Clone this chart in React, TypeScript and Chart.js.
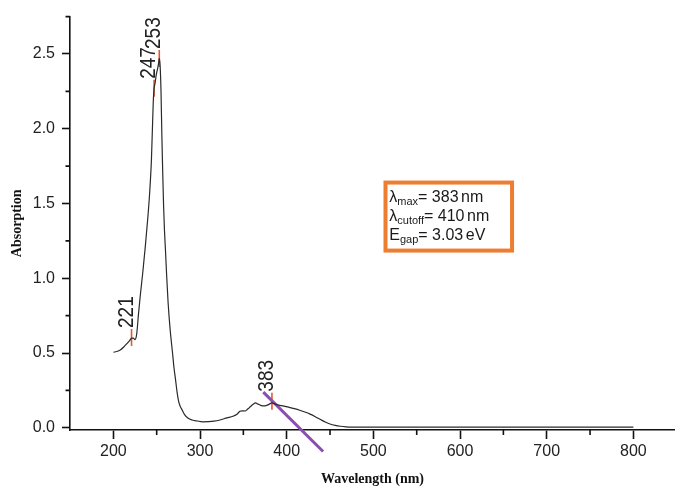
import React, { useEffect, useRef } from "react";
import { Chart, registerables } from "chart.js";

Chart.register(...registerables);

// ---- data ----
const wavelengths = [200,204,208,212,216,219,221,223,225,227,229,231,234,237,240,242,244,246,247,248,249.5,251,252,253,254,255,256,257,258,259,260.2,261.5,263.1,265.5,268.3,270,271.8,273.5,275.2,277,279.3,282,286,291,297,303,310,316,323,331,338,343,346,349,352,355,358,361,364,367,370,373,376,379,383,387,392,398,404,410,415,421,427,433,439,445,450,456,462,468,477,490,520,600,700,800];
const absorbance = [0.505,0.51,0.52,0.54,0.565,0.585,0.60,0.60,0.59,0.63,0.76,0.88,1.04,1.22,1.42,1.58,1.80,2.17,2.27,2.30,2.36,2.40,2.43,2.47,2.42,2.25,1.95,1.70,1.48,1.32,1.18,1.02,0.845,0.66,0.50,0.40,0.32,0.24,0.18,0.145,0.12,0.09,0.065,0.052,0.045,0.04,0.041,0.044,0.052,0.066,0.077,0.092,0.11,0.113,0.112,0.125,0.14,0.155,0.166,0.158,0.15,0.146,0.148,0.155,0.166,0.158,0.15,0.143,0.135,0.126,0.117,0.105,0.091,0.074,0.055,0.037,0.025,0.016,0.01,0.006,0.004,0.004,0.004,0.004,0.004,0.004];

const peakWavelengths = [221, 247, 253, 383];
const peakAbsorbance = [0.604, 2.27, 2.47, 0.178];

const tangentX = [373, 442];
const tangentY = [0.238, -0.159];

const xTicks = [200, 300, 400, 500, 600, 700, 800];
const xMinorTicks = [250, 350, 450, 550, 650, 750];
const yTicks = [0, 0.5, 1.0, 1.5, 2.0, 2.5];
const yMinorTicks = [0.25, 0.75, 1.25, 1.75, 2.25, 2.75];

const infoSymbols = ["λ", "λ", "E"];
const infoSubscripts = ["max", "cutoff", "gap"];
const infoValues = ["= 383", "= 410", "= 3.03"];
const infoUnits = ["nm", "nm", "eV"];

const xTitle = "Wavelength (nm)";
const yTitle = "Absorption";

// ---- plugins ----
const minorTicksPlugin = {
  id: "minorTicks",
  afterDraw(chart: any) {
    const { ctx, chartArea, scales } = chart;
    ctx.save();
    ctx.strokeStyle = "#111";
    ctx.lineWidth = 1.6;
    ctx.beginPath();
    xMinorTicks.forEach((v) => {
      const px = scales.x.getPixelForValue(v);
      ctx.moveTo(px, chartArea.bottom);
      ctx.lineTo(px, chartArea.bottom + 5);
    });
    yMinorTicks.forEach((v) => {
      const py = scales.y.getPixelForValue(v);
      ctx.moveTo(chartArea.left, py);
      ctx.lineTo(chartArea.left - 4.5, py);
    });
    ctx.stroke();
    ctx.restore();
  },
};

const peakLabelPlugin = {
  id: "peakLabels",
  afterDatasetsDraw(chart: any) {
    const { ctx, scales } = chart;
    ctx.save();
    ctx.fillStyle = "#222";
    ctx.font = '19px "Liberation Sans", Arial, sans-serif';
    ctx.textAlign = "left";
    ctx.textBaseline = "alphabetic";
    peakWavelengths.forEach((nm, i) => {
      const px = scales.x.getPixelForValue(nm);
      const py = scales.y.getPixelForValue(peakAbsorbance[i]);
      ctx.save();
      ctx.translate(px + 1, py - 9.5);
      ctx.rotate(-Math.PI / 2);
      ctx.scale(1, 1.15);
      ctx.fillText(String(nm), 0, 0);
      ctx.restore();
    });
    ctx.restore();
  },
};

const infoBoxPlugin = {
  id: "infoBox",
  afterDatasetsDraw(chart: any) {
    const { ctx, scales } = chart;
    const left = scales.x.getPixelForValue(514);
    const right = scales.x.getPixelForValue(660);
    const top = scales.y.getPixelForValue(1.64);
    const bottom = scales.y.getPixelForValue(1.185);
    ctx.save();
    ctx.fillStyle = "#fff";
    ctx.fillRect(left, top, right - left, bottom - top);
    ctx.strokeStyle = "#ed7d31";
    ctx.lineWidth = 4;
    ctx.strokeRect(left, top, right - left, bottom - top);
    ctx.fillStyle = "#1a1a1a";
    ctx.textBaseline = "alphabetic";
    ctx.textAlign = "left";
    infoSymbols.forEach((sym, i) => {
      let x = left + 3.8;
      const y = top + 19 + i * 19;
      ctx.font = '16px "Liberation Sans", Arial, sans-serif';
      ctx.fillText(sym, x, y);
      x += ctx.measureText(sym).width;
      ctx.font = '11px "Liberation Sans", Arial, sans-serif';
      ctx.fillText(infoSubscripts[i], x, y + 3);
      x += ctx.measureText(infoSubscripts[i]).width;
      ctx.font = '16px "Liberation Sans", Arial, sans-serif';
      ctx.fillText(infoValues[i], x, y);
      x += ctx.measureText(infoValues[i]).width + 2.5;
      ctx.fillText(infoUnits[i], x, y);
    });
    ctx.restore();
  },
};

export default function App() {
  const ref = useRef<HTMLCanvasElement>(null);
  useEffect(() => {
    const canvas = ref.current;
    if (!canvas) return;
    const chart = new Chart(canvas, {
      type: "line",
      data: {
        datasets: [
          {
            data: wavelengths.map((w, i) => ({ x: w, y: absorbance[i] })),
            borderColor: "#2a2a2a",
            borderWidth: 1.2,
            pointRadius: 0,
            cubicInterpolationMode: "monotone",
            fill: false,
          },
          {
            data: tangentX.map((w, i) => ({ x: w, y: tangentY[i] })),
            borderColor: "#8a4fb0",
            borderWidth: 3,
            pointRadius: 0,
            tension: 0,
            clip: false as any,
            fill: false,
          },
          {
            data: peakWavelengths.map((w, i) => ({ x: w, y: peakAbsorbance[i] })),
            showLine: false,
            pointStyle: "line",
            pointRotation: 90,
            pointRadius: 8.5,
            pointBorderColor: "#e4572e",
            pointBorderWidth: 1.6,
            borderColor: "#e4572e",
            clip: false as any,
          },
        ],
      } as any,
      options: {
        responsive: false,
        animation: false,
        layout: { autoPadding: false, padding: { top: 12.5, left: 0, right: 0, bottom: 0 } },
        plugins: {
          legend: { display: false },
          tooltip: { enabled: false },
        },
        scales: {
          x: {
            type: "linear",
            min: 150,
            max: 848,
            afterBuildTicks: (s: any) => {
              s.ticks = xTicks.map((v) => ({ value: v }));
            },
            afterFit: (s: any) => {
              s.height = 60;
            },
            border: { display: true, color: "#111", width: 1.6 },
            grid: {
              drawOnChartArea: false,
              drawTicks: true,
              tickLength: 9,
              tickColor: "#111",
              tickWidth: 1.6,
            },
            ticks: {
              padding: 3,
              color: "#222",
              font: { family: '"Liberation Sans", Arial, sans-serif', size: 16 },
              callback: (v: any) => String(v),
              maxRotation: 0,
            },
            title: {
              display: true,
              text: xTitle,
              color: "#111",
              font: { family: '"Liberation Serif", "Times New Roman", serif', size: 14, weight: "bold" },
              padding: { top: 0, bottom: 2 },
            },
          },
          y: {
            type: "linear",
            min: -0.015,
            max: 2.75,
            afterBuildTicks: (s: any) => {
              s.ticks = yTicks.map((v) => ({ value: v }));
            },
            afterFit: (s: any) => {
              s.width = 70;
            },
            border: { display: true, color: "#111", width: 1.6 },
            grid: {
              drawOnChartArea: false,
              drawTicks: true,
              tickLength: 8,
              tickColor: "#111",
              tickWidth: 1.6,
            },
            ticks: {
              padding: 7,
              color: "#222",
              font: { family: '"Liberation Sans", Arial, sans-serif', size: 16 },
              callback: (v: any) => Number(v).toFixed(1),
            },
            title: {
              display: true,
              text: yTitle,
              color: "#111",
              font: { family: '"Liberation Serif", "Times New Roman", serif', size: 14, weight: "bold" },
              padding: { top: 9, bottom: 0 },
            },
          },
        },
      } as any,
      plugins: [minorTicksPlugin, peakLabelPlugin, infoBoxPlugin],
    });
    return () => chart.destroy();
  }, []);
  return (
    <div style={{ position: "absolute", left: 0, top: 0, width: 675, height: 490, background: "#fff" }}>
      <canvas ref={ref} width={675} height={490} style={{ width: 675, height: 490, display: "block" }} />
    </div>
  );
}
